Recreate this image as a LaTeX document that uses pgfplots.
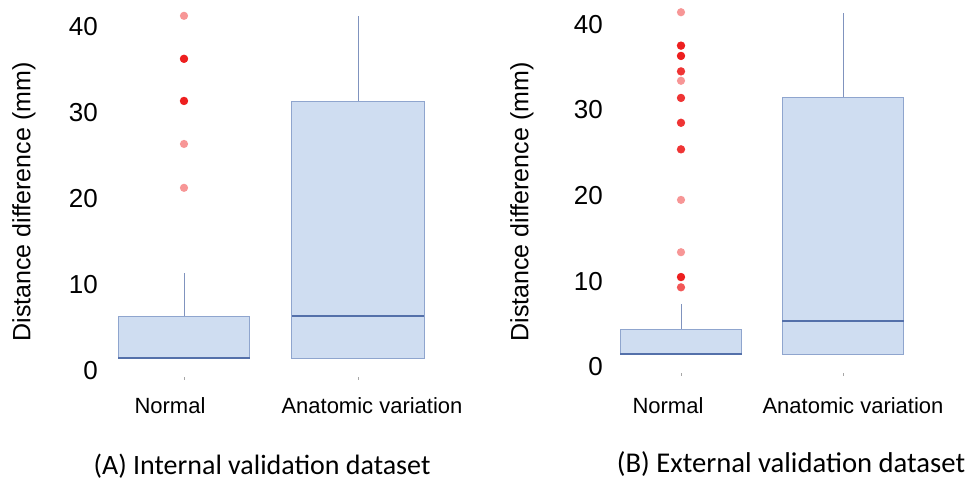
\documentclass[border=0pt]{standalone}
\usepackage{fontspec}
\setmainfont{Liberation Sans}
\newfontfamily\capfont{Carlito}
\usepackage{pgfplots}
\pgfplotsset{compat=1.18}
\usepgfplotslibrary{statistics}

\newlength\px
\setlength\px{0.75pt}

\definecolor{boxfill}{RGB}{207,221,241}
\definecolor{boxedge}{RGB}{143,165,206}
\definecolor{medc}{RGB}{84,112,170}
\definecolor{whisk}{RGB}{128,147,190}
\definecolor{outred}{RGB}{235,0,0}

\pgfplotsset{
  panel/.style={
    scale only axis,
    xmin=0.5, xmax=2.5, ymin=-1, ymax=42.5,
    axis x line*=bottom, axis y line*=left,
    axis line style={draw=none},
    xtick={1,2}, ytick={0,10,20,30,40},
    ytick style={draw=none},
    xtick style={draw=black!35, line width=0.6\px},
    major tick length=3\px, tick align=inside,
    /pgf/number format/assume math mode=true,
    yticklabel style={font=\fontsize{19.5pt}{22pt}\selectfont, anchor=east, inner sep=0pt},
    xticklabel style={font=\fontsize{16.5pt}{19pt}\selectfont, anchor=base},
    ylabel={Distance difference (mm)},
    label style={font=\fontsize{18.75pt}{22pt}\selectfont},
    boxplot/draw direction=y,
    boxplot/whisker extend=0,
    boxplot/every box/.style={draw=boxedge, fill=boxfill, line width=1\px},
    boxplot/every whisker/.style={draw=whisk, line width=0.9\px},
    boxplot/every median/.style={draw=medc, line width=1.6\px},
  },
  outl/.style={
    color=outred, solid, mark=*, mark size=4.1\px,
    mark options={draw opacity=0, fill=outred, fill opacity=0.41},
  },
}

\pgfplotstableread{
y
41.3
36.3
36.3
36.3
36.3
31.4
31.4
31.4
31.4
26.4
21.3
}\outA

\pgfplotstableread{
y
41.4
37.5
37.5
37.5
37.5
36.3
36.3
36.3
36.3
34.5
34.5
34.5
33.4
31.4
31.4
31.4
28.5
28.5
28.5
25.4
25.4
25.4
19.5
13.4
10.5
10.5
10.5
10.5
9.3
9.3
}\outB

\begin{document}
\begin{tikzpicture}
\useasboundingbox (0,-481\px) rectangle (972\px,0);

\begin{axis}[panel,
  at={(97\px,-379.6\px)}, anchor=south west,
  width=348\px, height=374.1\px,
  xticklabels={Normal\hspace*{28\px}, \hspace*{28\px}Anatomic variation},
  xticklabel style={yshift=-33.4\px},
  yticklabel style={xshift=1\px},
  ylabel style={at={(axis description cs:-0.2098,0.4747)}, anchor=center},
]
\addplot[boxplot prepared={draw position=1, box extend=0.753,
  lower whisker=1.5, lower quartile=1.5, median=1.5,
  upper quartile=6.3, upper whisker=11.4}, outl]
  table[y=y] {\outA};
\addplot[boxplot prepared={draw position=2, box extend=0.76,
  lower whisker=1.4, lower quartile=1.4, median=6.4,
  upper quartile=31.3, upper whisker=41.3}, outl]
  coordinates {};
\end{axis}

\begin{axis}[panel,
  at={(600\px,-375.6\px)}, anchor=south west,
  width=324\px, height=372.8\px,
  xticklabels={Normal\hspace*{26\px}, \hspace*{20\px}Anatomic variation},
  xticklabel style={yshift=-37.4\px},
  yticklabel style={xshift=3\px},
  ylabel style={at={(axis description cs:-0.2407,0.4657)}, anchor=center},
]
\addplot[boxplot prepared={draw position=1, box extend=0.747,
  lower whisker=1.5, lower quartile=1.5, median=1.5,
  upper quartile=4.4, upper whisker=7.4}, outl]
  table[y=y] {\outB};
\addplot[boxplot prepared={draw position=2, box extend=0.753,
  lower whisker=1.5, lower quartile=1.5, median=5.4,
  upper quartile=31.4, upper whisker=41.3}, outl]
  coordinates {};
\end{axis}

\node[font=\capfont\fontsize{21pt}{24pt}\selectfont, anchor=base] at (262\px,-474\px) {(A) Internal validation dataset};
\node[font=\capfont\fontsize{21.5pt}{24pt}\selectfont, anchor=base] at (791\px,-472\px) {(B) External validation dataset};
\end{tikzpicture}
\end{document}
